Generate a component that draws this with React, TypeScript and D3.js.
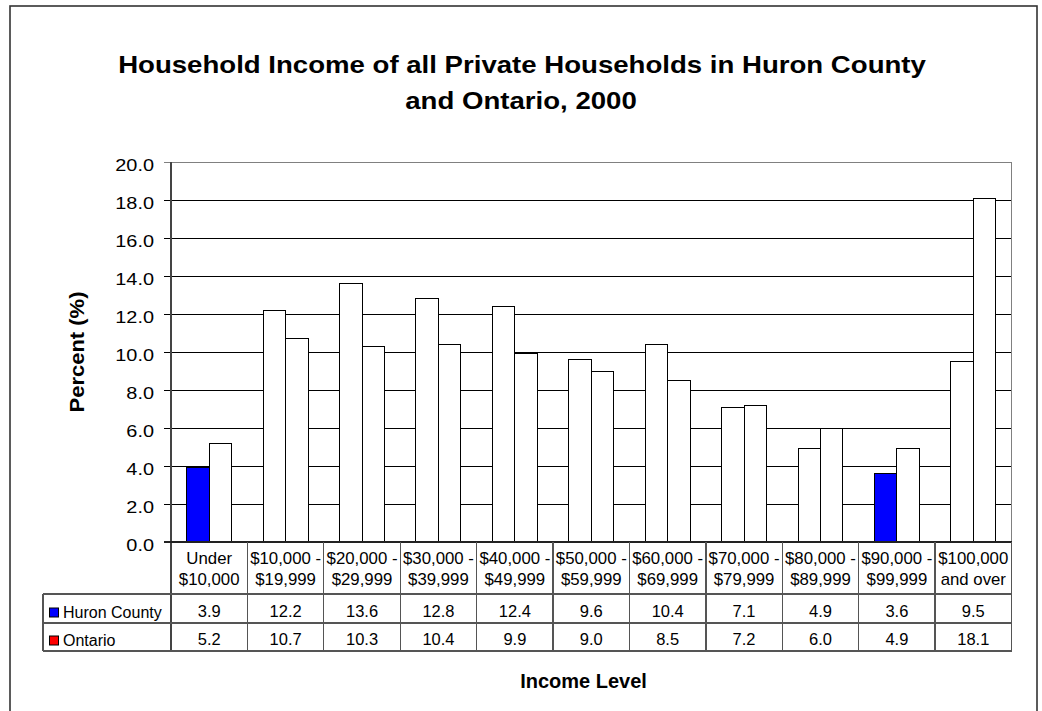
import React from "react";
import * as d3 from "d3";

const categories: string[][] = [
  ["Under", "$10,000"],
  ["$10,000 -", "$19,999"],
  ["$20,000 -", "$29,999"],
  ["$30,000 -", "$39,999"],
  ["$40,000 -", "$49,999"],
  ["$50,000 -", "$59,999"],
  ["$60,000 -", "$69,999"],
  ["$70,000 -", "$79,999"],
  ["$80,000 -", "$89,999"],
  ["$90,000 -", "$99,999"],
  ["$100,000", "and over"],
];
const huron: number[] = [3.9, 12.2, 13.6, 12.8, 12.4, 9.6, 10.4, 7.1, 4.9, 3.6, 9.5];
const ontario: number[] = [5.2, 10.7, 10.3, 10.4, 9.9, 9.0, 8.5, 7.2, 6.0, 4.9, 18.1];
const yTicks: number[] = [0, 2, 4, 6, 8, 10, 12, 14, 16, 18, 20];
const seriesNames = ["Huron County", "Ontario"];
const huronFilledIdx = [0, 9];

const FONT = "'Liberation Sans', Arial, Helvetica, sans-serif";

export default function App() {
  const W = 1042, H = 711;
  const plotL = 171, plotR = 1011.5, plotT = 162, plotB = 542;
  const tableL = 43;
  const rowHeaderB = 594, rowHuronB = 623, rowOntB = 651;

  const keys = categories.map((c) => c.join(" "));
  const x = d3.scaleBand<string>().domain(keys).range([plotL, plotR]).paddingInner(0).paddingOuter(0);
  const xs = d3.scaleBand<string>().domain(["h", "o"]).range([0, x.bandwidth()]).paddingInner(0).paddingOuter(0.7);
  const y = d3.scaleLinear().domain([0, 20]).range([plotB, plotT]);
  const fmt = d3.format(".1f");
  const lineCol = "#555";

  const boundaries = keys.map((k) => x(k)!).concat([plotR]);

  return (
    <svg width={W} height={H} style={{ position: "absolute", left: 0, top: 0, background: "#fff" }} fontFamily={FONT}>
      <rect x={0} y={0} width={W} height={H} fill="#fff" />
      {/* outer frame */}
      <rect x={10} y={6} width={1027} height={720} fill="none" stroke="#333" strokeWidth={1.6} />

      {/* title */}
      <text transform={`translate(522,73) scale(1.2,1)`} textAnchor="middle" fontSize={23} fontWeight="bold">
        Household Income of all Private Households in Huron County
      </text>
      <text transform={`translate(521,109) scale(1.2,1)`} textAnchor="middle" fontSize={23} fontWeight="bold">
        and Ontario, 2000
      </text>

      {/* gridlines */}
      {yTicks.map((t) => (
        <line key={"g" + t} x1={plotL - 7} x2={plotR} y1={y(t)} y2={y(t)} stroke={t === 20 ? "#808080" : "#000"} strokeWidth={1} shapeRendering="crispEdges" />
      ))}
      {/* plot border right */}
      <line x1={plotR} x2={plotR} y1={plotT} y2={plotB} stroke="#808080" strokeWidth={1} shapeRendering="crispEdges" />

      {/* y tick labels */}
      {yTicks.map((t) => (
        <text key={"t" + t} transform={`translate(154,${y(t) + 8.5}) scale(1.17,1)`} textAnchor="end" fontSize={17}>
          {fmt(t)}
        </text>
      ))}

      {/* y axis title */}
      <text transform={`translate(84,352) rotate(-90) scale(1.1,1)`} textAnchor="middle" fontSize={20} fontWeight="bold">
        Percent (%)
      </text>

      {/* bars */}
      {keys.map((k, i) => (
        <g key={"b" + i}>
          <rect
            x={x(k)! + xs("h")!}
            y={y(huron[i])}
            width={xs.bandwidth()}
            height={plotB - y(huron[i])}
            fill={huronFilledIdx.includes(i) ? "#0000FF" : "#fff"}
            stroke="#000"
            strokeWidth={1}
            shapeRendering="crispEdges"
          />
          <rect
            x={x(k)! + xs("o")!}
            y={y(ontario[i])}
            width={xs.bandwidth()}
            height={plotB - y(ontario[i])}
            fill="#fff"
            stroke="#000"
            strokeWidth={1}
            shapeRendering="crispEdges"
          />
        </g>
      ))}

      {/* y axis line */}
      <line x1={plotL} x2={plotL} y1={plotT} y2={rowOntB} stroke="#444" strokeWidth={1.5} shapeRendering="crispEdges" />
      <line x1={plotL - 7} x2={plotR} y1={plotB} y2={plotB} stroke="#222" strokeWidth={1.5} shapeRendering="crispEdges" />

      {/* data table lines */}
      {boundaries.slice(1).map((bx, i) => (
        <line key={"v" + i} x1={bx} x2={bx} y1={plotB} y2={rowOntB} stroke={lineCol} strokeWidth={1.3} shapeRendering="crispEdges" />
      ))}
      <line x1={tableL} x2={tableL} y1={rowHeaderB} y2={rowOntB} stroke={lineCol} strokeWidth={1.3} shapeRendering="crispEdges" />
      {[rowHeaderB, rowHuronB, rowOntB].map((ry, i) => (
        <line key={"h" + i} x1={tableL} x2={plotR} y1={ry} y2={ry} stroke={lineCol} strokeWidth={1.3} shapeRendering="crispEdges" />
      ))}

      {/* category labels */}
      {categories.map((c, i) => {
        const cx = x(keys[i])! + x.bandwidth() / 2;
        return (
          <g key={"c" + i}>
            <text transform={`translate(${cx},563.5) scale(1.05,1)`} textAnchor="middle" fontSize={16}>{c[0]}</text>
            <text transform={`translate(${cx},585) scale(1.05,1)`} textAnchor="middle" fontSize={16}>{c[1]}</text>
            <text transform={`translate(${cx},617) scale(1.03,1)`} textAnchor="middle" fontSize={16}>{fmt(huron[i])}</text>
            <text transform={`translate(${cx},645) scale(1.03,1)`} textAnchor="middle" fontSize={16}>{fmt(ontario[i])}</text>
          </g>
        );
      })}

      {/* legend keys in table */}
      <rect x={49.5} y={608} width={9} height={9} fill="#0000FF" stroke="#000" strokeWidth={1} />
      <text x={63} y={617.5} fontSize={16}>{seriesNames[0]}</text>
      <rect x={49.5} y={636} width={9} height={9} fill="#FF0000" stroke="#000" strokeWidth={1} />
      <text x={63} y={645.5} fontSize={16}>{seriesNames[1]}</text>

      {/* x axis title */}
      <text x={583.5} y={688} textAnchor="middle" fontSize={20} fontWeight="bold">
        Income Level
      </text>
    </svg>
  );
}
